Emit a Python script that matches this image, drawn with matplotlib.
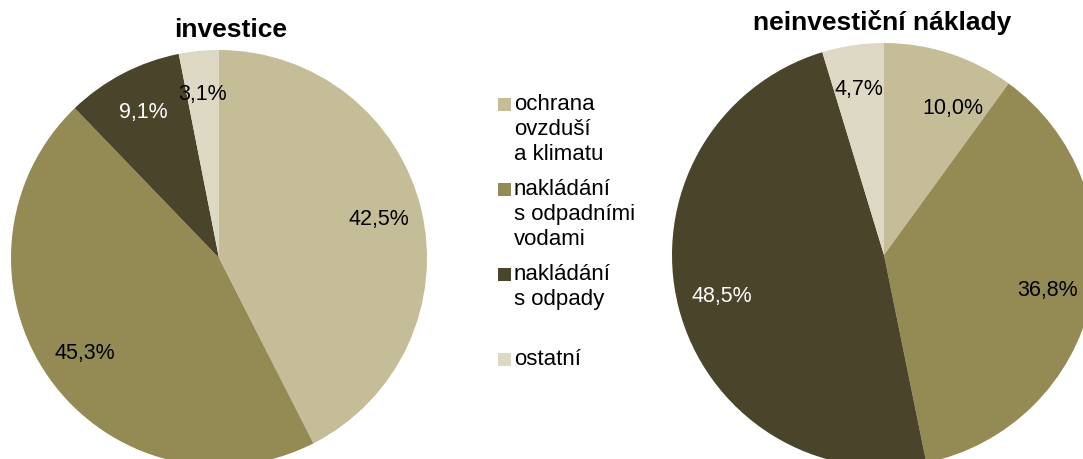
import matplotlib.pyplot as plt
from matplotlib.patches import Rectangle

plt.rcParams['font.family'] = ['Liberation Sans', 'DejaVu Sans']

categories = ['ochrana\novzduší\na klimatu', 'nakládání\ns odpadními\nvodami',
              'nakládání\ns odpady', 'ostatní']
colors = ['#C4BD97', '#948A54', '#4A452A', '#DDD9C4']
label_colors = ['black', 'black', 'white', 'black']

investice = [42.5, 45.3, 9.1, 3.1]
neinvesticni = [10.0, 36.8, 48.5, 4.7]
titles = ['investice', 'neinvestiční náklady']

W, H = 1083, 459
fig = plt.figure(figsize=(W / 100, H / 100), dpi=100)
fig.patch.set_facecolor('white')


def px_axes(cx, cy, r):
    # square axes centred on pixel (cx, cy) from top-left, radius r px
    return fig.add_axes([(cx - r) / W, (H - cy - r) / H, 2 * r / W, 2 * r / H])


def fmt(p):
    return f'{p:.1f}%'.replace('.', ',')


def draw_pie(ax, values):
    wedges, texts, autotexts = ax.pie(values, colors=colors, startangle=90,
                                      counterclock=False, autopct=fmt,
                                      pctdistance=0.79, radius=1,
                                      wedgeprops=dict(linewidth=0))
    for t, c in zip(autotexts, label_colors):
        t.set_color(c)
        t.set_fontsize(15.5)
    ax.set_xlim(-1, 1)
    ax.set_ylim(-1, 1)
    ax.set_aspect('equal')
    ax.axis('off')
    return autotexts


ax1 = px_axes(219, 258, 208)
draw_pie(ax1, investice)
ax2 = px_axes(884, 255, 212)
pct2 = draw_pie(ax2, neinvesticni)
# excel nudged the small first label a bit clockwise
x0, y0 = pct2[0].get_position()
pct2[0].set_position((x0 + 0.08, y0 - 0.06))

fig.text(231 / W, 1 - 37 / H, titles[0], ha='center', va='baseline',
         fontsize=19, fontweight='bold')
fig.text(882 / W, 1 - 30 / H, titles[1], ha='center', va='baseline',
         fontsize=19, fontweight='bold')

# legend in the middle
for i, (lab, col) in enumerate(zip(categories, colors)):
    base = 111 + 85 * i
    fig.add_artist(Rectangle((498 / W, 1 - base / H), 13 / W, 13 / H,
                             transform=fig.transFigure, facecolor=col,
                             edgecolor='none'))
    fig.text(514 / W, 1 - (base - 17) / H, lab, ha='left', va='top',
             fontsize=16, linespacing=1.25)

fig.savefig('out.png', dpi=100)
